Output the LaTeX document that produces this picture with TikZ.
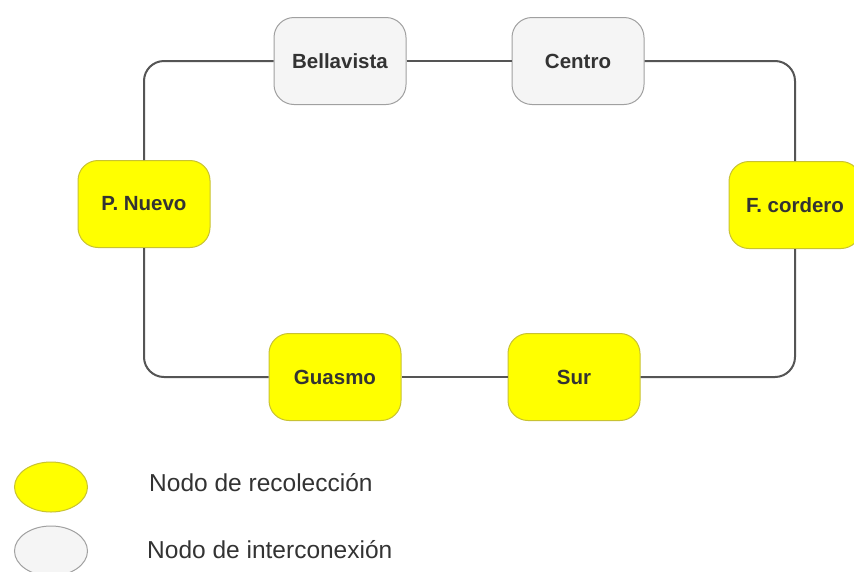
\documentclass[tikz,border=0pt]{standalone}
\usepackage{fontspec}
\setmainfont{Liberation Sans}
\usetikzlibrary{shapes.geometric}
\definecolor{ylw}{HTML}{FFFF00}
\definecolor{ylwborder}{HTML}{C8C232}
\definecolor{gryfill}{HTML}{F5F5F5}
\definecolor{gryborder}{HTML}{A0A0A0}
\definecolor{linecol}{HTML}{555555}
\definecolor{txtcol}{HTML}{333333}
\begin{document}
\begin{tikzpicture}[x=1pt,y=-1pt,
  nodebase/.style={rectangle, rounded corners=20pt, minimum width=132pt, minimum height=87pt, line width=1pt, inner sep=0pt,
    font=\fontsize{20.5}{24}\selectfont\bfseries, text=txtcol},
  recol/.style={nodebase, draw=ylwborder, fill=ylw},
  inter/.style={nodebase, draw=gryborder, fill=gryfill},
  link/.style={draw=linecol, line width=2pt, rounded corners=20pt},
  legtext/.style={font=\fontsize{24.5}{28}\selectfont, text=txtcol, anchor=west, inner sep=0pt}
]
\useasboundingbox (0,0) rectangle (854,571);
\fill[white] (0,0) rectangle (854,571);

\node[inter] (bel) at (340,61) {Bellavista};
\node[inter] (cen) at (578,61) {Centro};
\node[recol] (pn) at (144,204) {P. Nuevo};
\node[recol] (fc) at (795,205) {F. cordero};
\node[recol] (gua) at (335,377) {Guasmo};
\node[recol] (sur) at (574,377) {Sur};

\draw[link] (bel.east) -- (cen.west);
\draw[link] (cen.east) -| (fc.north);
\draw[link] (fc.south) |- (sur.east);
\draw[link] (sur.west) -- (gua.east);
\draw[link] (gua.west) -| (pn.south);
\draw[link] (pn.north) |- (bel.west);

\node[ellipse, draw=ylwborder, fill=ylw, line width=1pt, minimum width=73pt, minimum height=50pt, inner sep=0pt] (legr) at (51,487) {};
\node[ellipse, draw=gryborder, fill=gryfill, line width=1pt, minimum width=73pt, minimum height=50pt, inner sep=0pt] (legi) at (51,551) {};
\node[legtext] (legrt) at (149,483) {Nodo de recolección};
\node[legtext] (legit) at (147,550) {Nodo de interconexión};
\end{tikzpicture}
\end{document}
